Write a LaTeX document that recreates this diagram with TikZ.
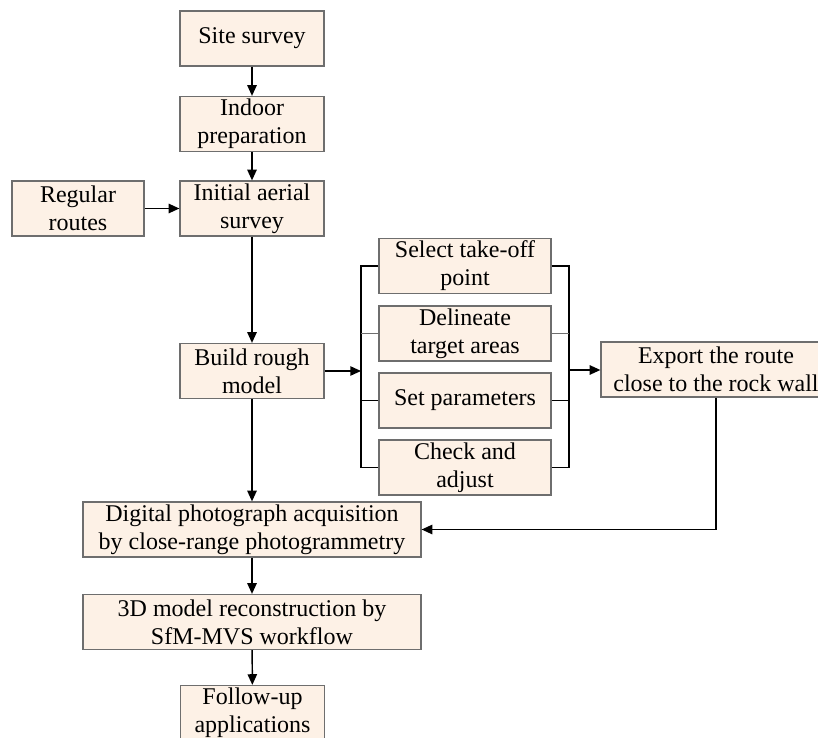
\documentclass[tikz,border=0pt]{standalone}
\usepackage{fontspec}
\setmainfont{Liberation Serif}
\usepackage{tikz}
\usetikzlibrary{arrows.meta}
\definecolor{boxfill}{HTML}{FDF1E6}
\definecolor{boxline}{HTML}{6E6E6E}

\begin{document}
\begin{tikzpicture}[x=0.75pt, y=-0.75pt,
    box/.style={draw=boxline, fill=boxfill, line width=0.9pt, align=center,
      inner sep=0pt, minimum height=41.25pt, minimum width=108pt,
      font=\fontsize{18}{21}\selectfont},
    link/.style={draw=black, line width=1.1pt},
    arr/.style={link, -{Triangle[length=8pt, width=7pt]}}]
  \useasboundingbox (0,0) rectangle (818,738);

  % Main column
  \node[box] (site) at (252,38.5) {Site survey};
  \node[box] (indoor) at (252,124) {Indoor\\preparation};
  \node[box] (initial) at (252,208.5) {Initial aerial\\survey};
  \node[box, minimum width=99pt] (regular) at (78,208.5) {Regular\\routes};
  \node[box] (build) at (252,371) {Build rough\\model};

  % Route planning steps
  \node[box, minimum width=129pt] (select) at (465,266) {Select take-off\\point};
  \node[box, minimum width=129pt] (delineate) at (465,333.5) {Delineate\\target areas};
  \node[box, minimum width=129pt] (setp) at (465,400.5) {Set parameters};
  \node[box, minimum width=129pt] (check) at (465,467.5) {Check and\\adjust};
  \node[box, minimum width=172.5pt] (export) at (716,369.5) {Export the route\\close to the rock wall};

  % Lower column
  \node[box, minimum width=253.5pt] (digital) at (252,529.5) {Digital photograph acquisition\\by close-range photogrammetry};
  \node[box, minimum width=253.5pt] (recon) at (252,622) {3D model reconstruction by\\SfM-MVS workflow};
  \node[box] (follow) at (252.5,713) {Follow-up\\applications};

  \coordinate (lbar) at (361,371);
  \coordinate (rbar) at (569,370);

  % Arrows down the main column
  \draw[arr] (site) -- (indoor);
  \draw[arr] (indoor) -- (initial);
  \draw[arr] (regular) -- (initial);
  \draw[arr] (initial) -- (build);
  \draw[arr] (build) -- (lbar);

  % Brackets round the steps
  \draw[link] (select.west) -| (lbar);
  \draw[link] (check.west) -| (lbar);
  \draw[link] (setp.west) -- (setp.west -| lbar);
  \draw[boxline, line width=0.6pt] (delineate.west) -- (delineate.west -| lbar);
  \draw[link] (select.east) -| (rbar);
  \draw[link] (check.east) -| (rbar);
  \draw[link] (setp.east) -- (setp.east -| rbar);
  \draw[boxline, line width=0.6pt] (delineate.east) -- (delineate.east -| rbar);
  \draw[arr] (rbar) -- (rbar -| export.west);

  % Back to acquisition
  \draw[arr] (export.south) |- (digital.east);
  \draw[arr] (build) -- (digital);
  \draw[arr] (digital) -- (recon);
  \draw[arr] (recon) -- (follow);
\end{tikzpicture}
\end{document}
